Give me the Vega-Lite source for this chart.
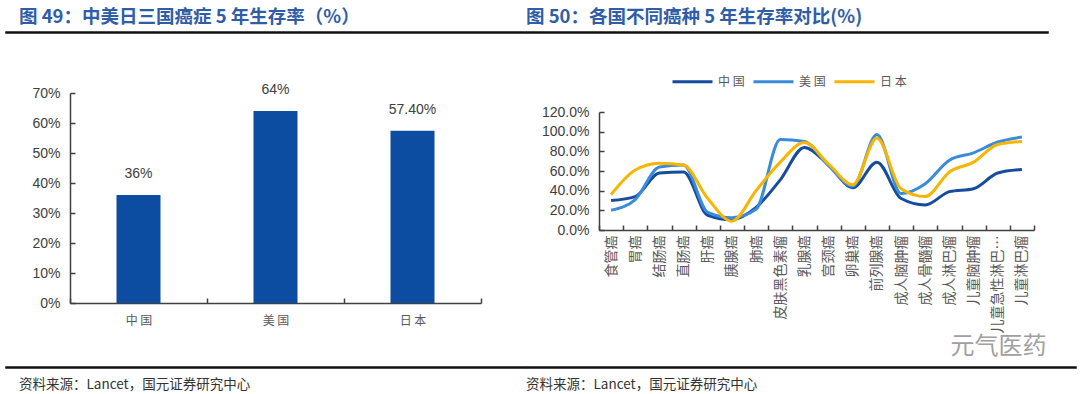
{
  "$schema": "https://vega.github.io/schema/vega-lite/v6.json",
  "background": "white",
  "padding": {"left": 5, "top": 7, "right": 0, "bottom": 0},
  "config": {
    "view": {"stroke": null},
    "font": "Liberation Sans",
    "axis": {"grid": false, "domainColor": "#404040", "tickColor": "#404040", "labelColor": "#404040", "domainWidth": 1.5, "tickWidth": 1.5, "title": null},
    "title": {"font": "Noto Sans CJK SC"}
  },
  "datasets": {
    "bars": [
      {"country": "中国", "rate": 0.36, "label": "36%"},
      {"country": "美国", "rate": 0.64, "label": "64%"},
      {"country": "日本", "rate": 0.574, "label": "57.40%"}
    ],
    "lines": [
      {"cancer": "食管癌", "country": "中国", "rate": 0.30},
      {"cancer": "胃癌", "country": "中国", "rate": 0.34},
      {"cancer": "结肠癌", "country": "中国", "rate": 0.58},
      {"cancer": "直肠癌", "country": "中国", "rate": 0.59},
      {"cancer": "肝癌", "country": "中国", "rate": 0.15},
      {"cancer": "胰腺癌", "country": "中国", "rate": 0.105},
      {"cancer": "肺癌", "country": "中国", "rate": 0.23},
      {"cancer": "皮肤黑色素瘤", "country": "中国", "rate": 0.51},
      {"cancer": "乳腺癌", "country": "中国", "rate": 0.84},
      {"cancer": "宫颈癌", "country": "中国", "rate": 0.66},
      {"cancer": "卵巢癌", "country": "中国", "rate": 0.43},
      {"cancer": "前列腺癌", "country": "中国", "rate": 0.69},
      {"cancer": "成人脑肿瘤", "country": "中国", "rate": 0.32},
      {"cancer": "成人骨髓瘤", "country": "中国", "rate": 0.255},
      {"cancer": "成人淋巴瘤", "country": "中国", "rate": 0.39},
      {"cancer": "儿童脑肿瘤", "country": "中国", "rate": 0.42},
      {"cancer": "儿童急性淋巴细胞白血病", "country": "中国", "rate": 0.58},
      {"cancer": "儿童淋巴瘤", "country": "中国", "rate": 0.615},
      {"cancer": "食管癌", "country": "美国", "rate": 0.20},
      {"cancer": "胃癌", "country": "美国", "rate": 0.31},
      {"cancer": "结肠癌", "country": "美国", "rate": 0.64},
      {"cancer": "直肠癌", "country": "美国", "rate": 0.66},
      {"cancer": "肝癌", "country": "美国", "rate": 0.18},
      {"cancer": "胰腺癌", "country": "美国", "rate": 0.125},
      {"cancer": "肺癌", "country": "美国", "rate": 0.21},
      {"cancer": "皮肤黑色素瘤", "country": "美国", "rate": 0.92},
      {"cancer": "乳腺癌", "country": "美国", "rate": 0.90},
      {"cancer": "宫颈癌", "country": "美国", "rate": 0.655},
      {"cancer": "卵巢癌", "country": "美国", "rate": 0.445},
      {"cancer": "前列腺癌", "country": "美国", "rate": 0.97},
      {"cancer": "成人脑肿瘤", "country": "美国", "rate": 0.37},
      {"cancer": "成人骨髓瘤", "country": "美国", "rate": 0.47},
      {"cancer": "成人淋巴瘤", "country": "美国", "rate": 0.71},
      {"cancer": "儿童脑肿瘤", "country": "美国", "rate": 0.785},
      {"cancer": "儿童急性淋巴细胞白血病", "country": "美国", "rate": 0.895},
      {"cancer": "儿童淋巴瘤", "country": "美国", "rate": 0.945},
      {"cancer": "食管癌", "country": "日本", "rate": 0.36},
      {"cancer": "胃癌", "country": "日本", "rate": 0.61},
      {"cancer": "结肠癌", "country": "日本", "rate": 0.68},
      {"cancer": "直肠癌", "country": "日本", "rate": 0.66},
      {"cancer": "肝癌", "country": "日本", "rate": 0.32},
      {"cancer": "胰腺癌", "country": "日本", "rate": 0.09},
      {"cancer": "肺癌", "country": "日本", "rate": 0.40},
      {"cancer": "皮肤黑色素瘤", "country": "日本", "rate": 0.69},
      {"cancer": "乳腺癌", "country": "日本", "rate": 0.89},
      {"cancer": "宫颈癌", "country": "日本", "rate": 0.67},
      {"cancer": "卵巢癌", "country": "日本", "rate": 0.46},
      {"cancer": "前列腺癌", "country": "日本", "rate": 0.935},
      {"cancer": "成人脑肿瘤", "country": "日本", "rate": 0.42},
      {"cancer": "成人骨髓瘤", "country": "日本", "rate": 0.34},
      {"cancer": "成人淋巴瘤", "country": "日本", "rate": 0.59},
      {"cancer": "儿童脑肿瘤", "country": "日本", "rate": 0.69},
      {"cancer": "儿童急性淋巴细胞白血病", "country": "日本", "rate": 0.87},
      {"cancer": "儿童淋巴瘤", "country": "日本", "rate": 0.90}
    ]
  },
  "resolve": {"legend": {"color": "independent"}},
  "spacing": -8,
  "hconcat": [
    {
      "columns": 1, "align": "none", "spacing": 46,
      "concat": [
        {
          "width": 520, "height": 1,
          "view": {"stroke": "#111111", "strokeWidth": 1.5},
          "title": {"text": "图 49：中美日三国癌症 5 年生存率（%）", "anchor": "start", "dx": 13, "offset": 3, "fontSize": 18.5, "fontWeight": "bold", "color": "#2F5DA8"},
          "data": {"values": [{}]},
          "mark": {"type": "point", "opacity": 0},
          "encoding": {}
        },
        {
          "columns": 1, "align": "none", "spacing": 38,
          "concat": [
            {
              "width": 475, "height": 210,
              "data": {"name": "bars"},
              "encoding": {
                "x": {"field": "country", "type": "nominal", "sort": null,
                  "scale": {"range": [64, 475], "paddingInner": 0, "paddingOuter": 0},
                  "axis": {"labelAngle": 0, "tickBand": "extent", "tickSize": -5, "labelPadding": 17, "labelFont": "Noto Sans CJK SC", "labelFontSize": 12, "labelColor": "#595959", "labelExpr": "join(split(datum.label, ''), ' ')"}
                },
                "y": {"field": "rate", "type": "quantitative",
                  "scale": {"domain": [0, 0.7]},
                  "axis": {"values": [0, 0.1, 0.2, 0.3, 0.4, 0.5, 0.6, 0.7], "format": ".0%", "tickSize": -5, "labelPadding": 15, "labelFontSize": 14, "offset": -64, "minExtent": 0}
                }
              },
              "layer": [
                {"mark": {"type": "bar", "size": 44, "color": "#0D4DA1"}},
                {"mark": {"type": "text", "dy": -21, "baseline": "middle", "fontSize": 14, "color": "#404040"},
                 "encoding": {"text": {"field": "label"}}}
              ]
            },
            {
              "width": 520, "height": 1,
              "view": {"stroke": "#111111", "strokeWidth": 1.5},
              "title": {"text": "资料来源：Lancet，国元证券研究中心", "orient": "bottom", "anchor": "start", "dx": 13, "offset": 8, "fontSize": 13.5, "fontWeight": "normal", "color": "#333333"},
              "data": {"values": [{}]},
              "mark": {"type": "point", "opacity": 0},
              "encoding": {}
            }
          ]
        }
      ]
    },
    {
      "columns": 1, "align": "none", "spacing": 24,
      "resolve": {"legend": {"color": "independent"}},
      "concat": [
        {
          "width": 521, "height": 1,
          "view": {"stroke": "#111111", "strokeWidth": 1.5},
          "title": {"text": "图 50：各国不同癌种 5 年生存率对比(%)", "anchor": "start", "dx": -1, "offset": 3, "fontSize": 18.5, "fontWeight": "bold", "color": "#2F5DA8"},
          "data": {"values": [{}]},
          "mark": {"type": "point", "opacity": 0},
          "encoding": {}
        },
        {
          "columns": 1, "align": "none", "spacing": 6,
          "resolve": {"legend": {"color": "independent"}},
          "concat": [
            {
              "width": 507, "height": 118,
              "data": {"name": "lines"},
              "mark": {"type": "line", "strokeWidth": 3, "interpolate": "monotone"},
              "encoding": {
                "x": {"field": "cancer", "type": "nominal", "sort": null,
                  "scale": {"type": "band", "range": [72, 507], "paddingInner": 0, "paddingOuter": 0},
                  "axis": {"labelAngle": 270, "tickBand": "extent", "tickSize": -5, "labelPadding": 10, "labelFont": "Noto Sans CJK SC", "labelFontSize": 14, "labelColor": "#595959", "labelLimit": 100,
                    "title": "元气医药", "titleFont": "Noto Sans CJK SC", "titleFontSize": 24, "titleFontWeight": "normal", "titleColor": "#a0a0a0", "titleAlign": "right", "titleBaseline": "middle", "titleX": 519, "titleY": 116}
                },
                "y": {"field": "rate", "type": "quantitative",
                  "scale": {"domain": [0, 1.2]},
                  "axis": {"values": [0, 0.2, 0.4, 0.6, 0.8, 1.0, 1.2], "format": ".1%", "tickSize": -5, "labelPadding": 15, "labelFontSize": 14, "offset": -72, "minExtent": 0}
                },
                "color": {"field": "country", "type": "nominal",
                  "scale": {"domain": ["中国", "美国", "日本"], "range": ["#154C9E", "#3A8CDB", "#F7B500"]},
                  "legend": {"orient": "none", "legendX": 144, "legendY": -52, "direction": "horizontal", "title": null, "symbolType": "stroke", "symbolSize": 1600, "symbolStrokeWidth": 3, "labelFont": "Noto Sans CJK SC", "labelFontSize": 12, "labelColor": "#595959", "columnPadding": 2, "labelExpr": "join(split(datum.label, ''), ' ')"}
                }
              }
            },
            {
              "width": 549, "height": 1,
              "view": {"stroke": "#111111", "strokeWidth": 1.5},
              "title": {"text": "资料来源：Lancet，国元证券研究中心", "orient": "bottom", "anchor": "start", "dx": -1, "offset": 8, "fontSize": 13.5, "fontWeight": "normal", "color": "#333333"},
              "data": {"values": [{}]},
              "mark": {"type": "point", "opacity": 0},
              "encoding": {}
            }
          ]
        }
      ]
    }
  ]
}
